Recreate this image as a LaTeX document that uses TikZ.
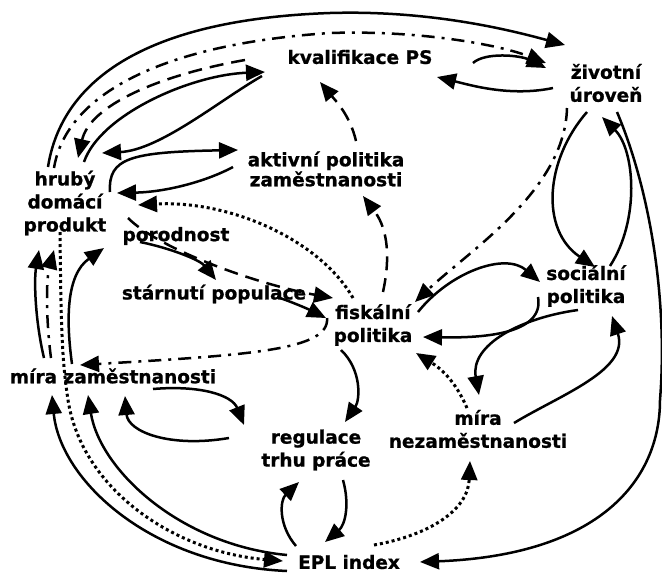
\documentclass[tikz,border=0pt]{standalone}
\usepackage{fontspec}
\setmainfont{DejaVu Sans}
\newfontfamily\lblfont{DejaVu Sans Bold}[FakeBold=1.0]
\usetikzlibrary{arrows.meta,calc,backgrounds}
\begin{document}
\begin{tikzpicture}[x=1pt,y=-1pt,
  lbl/.style={font=\lblfont\fontsize{18.5}{23}\selectfont, align=center, inner sep=0pt},
  conn/.style={line width=2.5pt, -{Triangle[length=19pt,width=16pt]}},
  dashedconn/.style={conn, dash pattern=on 14pt off 8pt},
  dashdot/.style={conn, dash pattern=on 13pt off 7pt on 3pt off 7pt},
  dottedconn/.style={conn, line width=3pt, dash pattern=on 3pt off 3pt}]
\useasboundingbox (0,0) rectangle (662,574);
\node[lbl] (kv) at (360,57) {kvalifikace PS};
\node[lbl] (zu) at (606,83) {životní\\úroveň};
\node[lbl, font=\lblfont\fontsize{18.5}{20}\selectfont] (ap) at (326,169) {aktivní politika\\zaměstnanosti};
\node[lbl] (hdp) at (65,203) {hrubý\\domácí\\produkt};
\node[lbl] (po) at (176,236) {porodnost};
\node[lbl] (st) at (214,294) {stárnutí populace};
\node[lbl] (fp) at (373,325) {fiskální\\politika};
\node[lbl] (sp) at (586,286) {sociální\\politika};
\node[lbl] (mz) at (113,376) {míra zaměstnanosti};
\node[lbl] (rtp) at (316,450) {regulace\\trhu práce};
\node[lbl] (mn) at (478,429) {míra\\nezaměstnanosti};
\node[lbl] (epl) at (349,562) {EPL index};
\begin{scope}[on background layer]
\draw[conn] ($(hdp)+(-17,-36)$) .. controls (60,90) and (130,20) .. (330,13) .. controls (430,10) and (510,30) .. ($(zu)+(-41,-38)$);
\draw[dashdot] ($(hdp)+(-11,-35)$) .. controls (65,100) and (150,45) .. (330,33) .. controls (420,30) and (500,45) .. ($(zu)+(-60,-20)$);
\draw[dashedconn] ($(kv)+(-115,3)$) .. controls (160,75) and (90,105) .. ($(hdp)+(13,-45)$);
\draw[conn] ($(hdp)+(19,-41)$) .. controls (100,115) and (190,75) .. ($(kv)+(-95,15)$);
\draw[conn] ($(kv)+(-98,19)$) .. controls (220,100) and (160,150) .. ($(hdp)+(37,-50)$);
\draw[conn] ($(hdp)+(45,-11)$) .. controls (108,158) and (130,152) .. ($(ap)+(-88,-19)$);
\draw[conn] ($(ap)+(-93,-2)$) .. controls (205,182) and (165,192) .. ($(hdp)+(52,-10)$);
\draw[dottedconn] ($(fp)+(-20,-27)$) .. controls (320,240) and (230,200) .. ($(hdp)+(73,2)$);
\draw[dashedconn] ($(hdp)+(63,15)$) .. controls (160,250) and (260,285) .. ($(fp)+(-40,-27)$);
\draw[conn] ($(po)+(-36,6)$) .. controls (170,248) and (200,260) .. ($(st)+(2,-14)$);
\draw[conn] ($(st)+(63,3)$) .. controls (295,303) and (310,310) .. ($(fp)+(-47,-7)$);
\draw[dashedconn] ($(fp)+(10,-33)$) .. controls (392,250) and (385,225) .. ($(ap)+(37,27)$);
\draw[dashedconn] ($(ap)+(30,-28)$) .. controls (350,115) and (335,100) .. ($(kv)+(-40,25)$);
\draw[conn] ($(zu)+(-53,5)$) .. controls (510,97) and (470,85) .. ($(kv)+(77,20)$);
\draw[conn] ($(kv)+(113,6)$) .. controls (485,52) and (520,55) .. ($(zu)+(-60,-15)$);
\draw[dashdot] ($(zu)+(-39,25)$) .. controls (565,190) and (470,250) .. ($(fp)+(42,-23)$);
\draw[conn] ($(zu)+(-19,29)$) .. controls (545,160) and (540,230) .. ($(sp)+(9,-19)$);
\draw[conn] ($(sp)+(24,-20)$) .. controls (640,220) and (635,150) .. ($(zu)+(-4,34)$);
\draw[conn] ($(zu)+(11,29)$) .. controls (650,190) and (668,300) .. (660,400) .. controls (660,480) and (600,555) .. ($(epl)+(71,0)$);
\draw[conn] ($(fp)+(45,-13)$) .. controls (450,272) and (505,252) .. ($(sp)+(-46,-4)$);
\draw[conn] ($(sp)+(-48,11)$) .. controls (545,335) and (480,338) .. ($(fp)+(50,12)$);
\draw[conn] ($(sp)+(-8,24)$) .. controls (520,318) and (470,345) .. ($(mn)+(1,-34)$);
\draw[conn] ($(mn)+(36,-6)$) .. controls (560,395) and (630,370) .. ($(sp)+(26,30)$);
\draw[dottedconn] ($(mn)+(-11,-21)$) .. controls (455,380) and (440,368) .. ($(fp)+(43,28)$);
\draw[dottedconn] ($(epl)+(25,-17)$) .. controls (430,535) and (468,510) .. ($(mn)+(-8,32)$);
\draw[conn] ($(fp)+(-32,25)$) .. controls (362,370) and (360,400) .. ($(rtp)+(29,-28)$);
\draw[conn] ($(rtp)+(27,30)$) .. controls (350,505) and (345,525) .. ($(epl)+(-24,-20)$);
\draw[conn] ($(epl)+(-53,-16)$) .. controls (278,525) and (280,500) .. ($(rtp)+(-17,32)$);
\draw[conn] ($(mz)+(40,13)$) .. controls (200,385) and (232,395) .. ($(rtp)+(-72,-25)$);
\draw[conn] ($(rtp)+(-87,-12)$) .. controls (170,448) and (128,432) .. ($(mz)+(12,20)$);
\draw[conn] ($(epl)+(-62,9)$) .. controls (150,565) and (60,480) .. ($(mz)+(-61,19)$);
\draw[conn] ($(epl)+(-62,-7)$) .. controls (180,545) and (100,470) .. ($(mz)+(-25,19)$);
\draw[dottedconn] ($(hdp)+(-5,29)$) .. controls (61,330) and (62,360) .. (68,400) .. controls (82,490) and (175,552) .. ($(epl)+(-66,-1)$);
\draw[conn] ($(mz)+(-69,-18)$) .. controls (35,320) and (34,280) .. ($(hdp)+(-26,47)$);
\draw[dashdot] ($(mz)+(-62,-18)$) .. controls (46,320) and (46,280) .. ($(hdp)+(-11,47)$);
\draw[conn] ($(mz)+(-41,-12)$) .. controls (66,320) and (66,275) .. ($(po)+(-72,12)$);
\draw[dashdot] ($(fp)+(-46,-7)$) .. controls (330,350) and (250,355) .. ($(mz)+(-33,-11)$);
\end{scope}
\end{tikzpicture}
\end{document}
